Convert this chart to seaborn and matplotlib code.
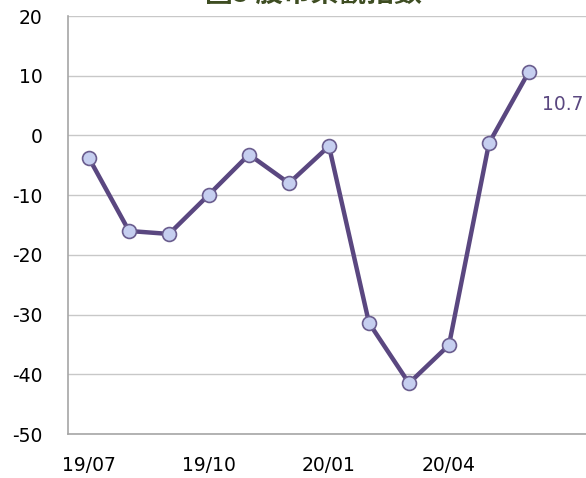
import numpy as np
import pandas as pd
import matplotlib
matplotlib.use('Agg')
import matplotlib.pyplot as plt
import seaborn as sns

# data
months = ['19/07', '19/08', '19/09', '19/10', '19/11', '19/12',
          '20/01', '20/02', '20/03', '20/04', '20/05', '20/06']
values = [-3.8, -16.0, -16.5, -9.9, -3.2, -8.0, -1.8, -31.4, -41.5, -35.1, -1.3, 10.7]
tick_labels = ['19/07', '19/10', '20/01', '20/04']
y_ticks = [20, 10, 0, -10, -20, -30, -40, -50]
title = '圖5 股市樂觀指數'

line_color = '#5a4780'
marker_fill = '#c6cff0'

sns.set_style('white')
plt.rcParams['font.family'] = ['DejaVu Sans', 'Noto Sans CJK TC']

df = pd.DataFrame({'month': months, 'value': values})
df['pos'] = np.arange(len(df))

fig = plt.figure(figsize=(5.86, 4.78), dpi=100)
ax = fig.add_axes([68 / 586, 44 / 478, 518 / 586, 418 / 478])

sns.lineplot(data=df, x='pos', y='value', ax=ax, color=line_color, linewidth=3.2,
             marker='o', markersize=10, markerfacecolor=marker_fill,
             markeredgecolor='#6a5d8e', markeredgewidth=1.2, zorder=3)

ax.set_xlim(-0.525, 12.425)
ax.set_ylim(-50, 20)
ax.set_yticks(y_ticks)
ax.set_yticklabels([str(v) for v in y_ticks])
ax.set_xticks([months.index(t) for t in tick_labels])
ax.set_xticklabels(tick_labels)
ax.tick_params(axis='y', length=0, pad=18.5, labelsize=13.5, labelcolor='black')
ax.tick_params(axis='x', length=0, pad=16, labelsize=13.5, labelcolor='black')
ax.set_xlabel('')
ax.set_ylabel('')

ax.grid(axis='y', color='#c8c8c8', linewidth=1)
ax.set_axisbelow(True)
for s in ['top', 'right']:
    ax.spines[s].set_visible(False)
for s in ['left', 'bottom']:
    ax.spines[s].set_color('#a6a6a6')
    ax.spines[s].set_linewidth(1.2)

# last value label
ax.annotate(f'{values[-1]}', xy=(df['pos'].iloc[-1], values[-1]), xytext=(9, -24),
            textcoords='offset points', color=line_color, fontsize=13.5, va='center', ha='left',
            annotation_clip=False)

# title, clipped at the top like the original
fig.text(0.535, 1.012, title, ha='center', va='center', fontsize=20, fontweight='bold',
         color='#3e4d22', family=['Noto Sans CJK TC', 'DejaVu Sans'])

fig.savefig('out.png', dpi=100)
